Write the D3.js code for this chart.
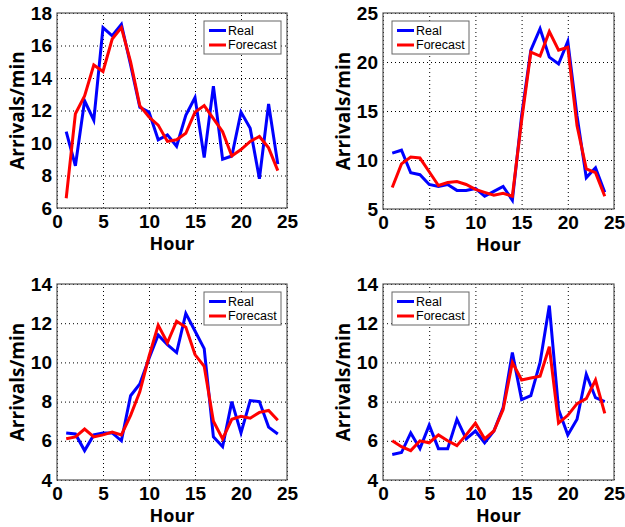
<!DOCTYPE html>
<html>
<head>
<meta charset="utf-8">
<script src="https://cdn.jsdelivr.net/npm/d3@7"></script>
<style>
  body { margin: 0; background: #fff; }
  svg { display: block; font-family: "Open Sans", sans-serif; }
</style>
</head>
<body>
<svg id="chart" width="625" height="527"></svg>
<script>
const hours = [1, 2, 3, 4, 5, 6, 7, 8, 9, 10, 11, 12, 13, 14, 15, 16, 17, 18, 19, 20, 21, 22, 23, 24];
const xTicks = [0, 5, 10, 15, 20, 25];

// top-left
const real1 = [10.7, 8.6, 12.6, 11.4, 17.1, 16.6, 17.3, 14.8, 12.2, 11.9, 10.2, 10.5, 9.8, 11.7, 12.8, 9.1, 13.5, 9.0, 9.2, 11.9, 10.9, 7.8, 12.4, 8.7];
const fcst1 = [6.6, 11.8, 12.9, 14.8, 14.4, 16.4, 17.1, 15.0, 12.3, 11.6, 11.1, 10.1, 10.2, 10.6, 11.9, 12.3, 11.5, 10.7, 9.2, 9.6, 10.1, 10.4, 9.7, 8.3];
const yTicks1 = [6, 8, 10, 12, 14, 16, 18];

// top-right
const real2 = [10.7, 11.0, 8.7, 8.5, 7.5, 7.3, 7.5, 6.9, 6.9, 7.1, 6.3, 6.8, 7.3, 5.9, 14.5, 21.2, 23.4, 20.5, 19.8, 22.1, 14.5, 8.2, 9.2, 6.7];
const fcst2 = [7.2, 9.6, 10.3, 10.2, 8.8, 7.4, 7.7, 7.8, 7.5, 7.0, 6.7, 6.4, 6.6, 6.3, 14.0, 21.0, 20.6, 23.1, 21.2, 21.5, 13.5, 9.1, 8.7, 6.3];
const yTicks2 = [5, 10, 15, 20, 25];

// bottom-left
const real3 = [6.4, 6.35, 5.5, 6.3, 6.4, 6.4, 6.0, 8.3, 8.9, 10.2, 11.4, 10.9, 10.5, 12.5, 11.6, 10.7, 6.2, 5.7, 8.0, 6.4, 8.05, 8.0, 6.7, 6.35];
const fcst3 = [6.1, 6.2, 6.6, 6.2, 6.3, 6.45, 6.3, 7.3, 8.5, 10.3, 11.9, 11.0, 12.1, 11.8, 10.4, 9.8, 7.0, 6.1, 7.1, 7.25, 7.15, 7.45, 7.55, 7.05];
const yTicks3 = [4, 6, 8, 10, 12, 14];

// bottom-right
const real4 = [5.3, 5.4, 6.4, 5.6, 6.8, 5.6, 5.6, 7.1, 6.1, 6.5, 5.9, 6.5, 7.7, 10.5, 8.1, 8.3, 10.0, 12.9, 7.6, 6.3, 7.1, 9.4, 8.2, 8.0];
const fcst4 = [6.0, 5.7, 5.5, 6.0, 5.9, 6.3, 6.0, 5.75, 6.3, 6.9, 6.1, 6.5, 7.6, 10.0, 9.1, 9.2, 9.3, 10.8, 6.9, 7.3, 7.9, 8.15, 9.1, 7.4];
const yTicks4 = [4, 6, 8, 10, 12, 14];

const seriesNames = ["Real", "Forecast"];
const colors = ["#0000ff", "#ff0000"];

const panels = [
  { real: real1, fcst: fcst1, yTicks: yTicks1, left: 57, top: 13, w: 230, h: 195, legend: "ne" },
  { real: real2, fcst: fcst2, yTicks: yTicks2, left: 383, top: 13, w: 231, h: 196, legend: "nw" },
  { real: real3, fcst: fcst3, yTicks: yTicks3, left: 57, top: 284, w: 230, h: 196, legend: "ne" },
  { real: real4, fcst: fcst4, yTicks: yTicks4, left: 383, top: 284, w: 231, h: 196, legend: "nw" },
];

const svg = d3.select("#chart");

panels.forEach((p) => {
  const g = svg.append("g").attr("transform", `translate(${p.left},${p.top})`);

  const x = d3.scaleLinear().domain([0, 25]).range([0, p.w]);
  const y = d3
    .scaleLinear()
    .domain(d3.extent(p.yTicks))
    .range([p.h, 0]);

  // dotted grid via axes
  const xAxis = d3.axisBottom(x).tickValues(xTicks).tickSizeInner(-p.h).tickSizeOuter(0).tickPadding(5);
  const yAxis = d3.axisLeft(y).tickValues(p.yTicks).tickSizeInner(-p.w).tickSizeOuter(0).tickPadding(5);

  const gx = g.append("g").attr("transform", `translate(0,${p.h})`).call(xAxis);
  const gy = g.append("g").call(yAxis);

  [gx, gy].forEach((a) => {
    a.select(".domain").remove();
    a.selectAll(".tick line")
      .attr("stroke", "#000")
      .attr("stroke-width", 1)
      .attr("stroke-dasharray", "1,3");
    a.selectAll(".tick text")
      .attr("fill", "#000")
      .style("font-size", "19px")
      .style("font-weight", "bold");
  });
  gx.selectAll(".tick text").attr("dy", "0.8em");

  // frame
  g.append("rect")
    .attr("width", p.w)
    .attr("height", p.h)
    .attr("fill", "none")
    .attr("stroke", "#555")
    .attr("stroke-width", 1.2);

  const line = d3
    .line()
    .x((d, i) => x(hours[i]))
    .y((d) => y(d));

  [p.real, p.fcst].forEach((vals, k) => {
    g.append("path")
      .datum(vals)
      .attr("fill", "none")
      .attr("stroke", colors[k])
      .attr("stroke-width", 3)
      .attr("stroke-linejoin", "miter")
      .attr("d", line);
  });

  // axis titles
  g.append("text")
    .attr("x", p.w / 2)
    .attr("y", p.h + 42)
    .attr("text-anchor", "middle")
    .style("font-size", "18px")
    .style("font-weight", "bold")
    .text("Hour");

  g.append("text")
    .attr("transform", `translate(${-33},${p.h / 2}) rotate(-90)`)
    .attr("text-anchor", "middle")
    .style("font-size", "19px")
    .style("font-weight", "bold")
    .text("Arrivals/min");

  // legend
  const lw = 77, lh = 33;
  const lx = p.legend === "ne" ? p.w - lw - 6 : 9;
  const ly = 8;
  const lg = g.append("g").attr("transform", `translate(${lx},${ly})`);
  lg.append("rect")
    .attr("width", lw)
    .attr("height", lh)
    .attr("fill", "#fff")
    .attr("stroke", "#666")
    .attr("stroke-width", 1);
  seriesNames.forEach((name, k) => {
    const ry = 9.5 + k * 14.5;
    lg.append("line")
      .attr("x1", 5)
      .attr("x2", 22)
      .attr("y1", ry)
      .attr("y2", ry)
      .attr("stroke", colors[k])
      .attr("stroke-width", 3);
    lg.append("text")
      .attr("x", 24)
      .attr("y", ry)
      .attr("dy", "0.35em")
      .style("font-family", "'Liberation Sans', Arial, sans-serif")
      .style("font-size", "12.5px")
      .text(name);
  });
});
</script>
</body>
</html>
